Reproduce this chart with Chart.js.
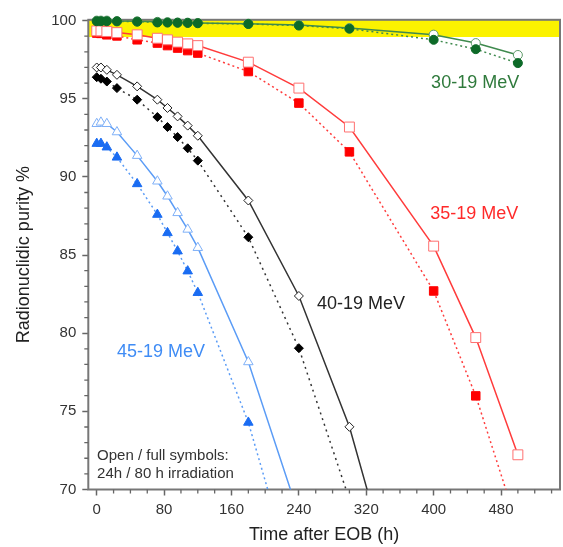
<!DOCTYPE html>
<html>
<head>
<meta charset="utf-8">
<script src="https://cdn.jsdelivr.net/npm/chart.js@4"></script>
<style>
  html, body { margin: 0; padding: 0; background: #fff; }
  #wrap { width: 563px; height: 547px; }
</style>
</head>
<body>
<div id="wrap"><canvas id="myChart"></canvas></div>
<script>
const ctx = document.getElementById('myChart')

Chart.defaults.font.family = "'Liberation Sans', Arial, sans-serif"
Chart.defaults.color = '#333'

// times after EOB (h)
const times = [0, 5, 12, 24, 48, 72, 84, 96, 108, 120, 180, 240, 300, 400, 450, 500]

// 30-19 MeV
const green24 = [100, 100, 100, 99.97, 99.95, 99.92, 99.9, 99.88, 99.87, 99.85, 99.8, 99.72, 99.52, 99.1, 98.56, 97.8]
const green80 = [99.96, 99.96, 99.96, 99.95, 99.93, 99.88, 99.87, 99.86, 99.85, 99.83, 99.78, 99.68, 99.48, 98.77, 98.17, 97.28]
// 35-19 MeV
const red24 = [99.34, 99.34, 99.3, 99.23, 99.09, 98.87, 98.77, 98.62, 98.51, 98.4, 97.34, 95.68, 93.19, 85.57, 79.72, 72.22]
const red80 = [99.2, 99.18, 99.09, 99.02, 98.77, 98.56, 98.4, 98.24, 98.08, 97.92, 96.74, 94.72, 91.6, 82.7, 75.99, 67.6]
// 40-19 MeV
const black24 = [97.0, 97.0, 96.85, 96.53, 95.79, 94.94, 94.41, 93.87, 93.28, 92.63, 88.49, 82.38, 74.01, 54.9]
const black80 = [96.38, 96.28, 96.1, 95.68, 94.94, 93.83, 93.19, 92.55, 91.83, 91.04, 86.14, 79.04, 69.35]
// 45-19 MeV
const blue24 = [93.4, 93.49, 93.4, 92.87, 91.36, 89.72, 88.76, 87.7, 86.64, 85.47, 78.16, 68.37]
const blue80 = [92.13, 92.13, 91.9, 91.25, 89.55, 87.59, 86.42, 85.25, 83.97, 82.59, 74.29, 63.1]

const xTicks = [0, 80, 160, 240, 320, 400, 480]
const yTicks = [70, 75, 80, 85, 90, 95, 100]

const labels = [
    { text: '30-19 MeV', x: 397, y: 95.69, color: '#2f7a3c' },
    { text: '35-19 MeV', x: 396, y: 87.31, color: '#ff2a2a' },
    { text: '40-19 MeV', x: 261.5, y: 81.55, color: '#222' },
    { text: '45-19 MeV', x: 24, y: 78.48, color: '#3f8cf5' }
]
const noteLines = ['Open / full symbols:', '24h / 80 h irradiation']

const toPoints = (vals) => vals.map((v, i) => ({ x: times[i], y: v }))

const series = (label, vals, opts) => Object.assign({
    label: label,
    data: toPoints(vals),
    borderWidth: 1.5,
    pointBorderWidth: 1,
    tension: 0,
    clip: { left: 10, top: 10, right: 10, bottom: 0 }
}, opts)

const noPad = (scale) => {
    scale.paddingLeft = 0
    scale.paddingRight = 0
    scale.paddingTop = 0
    scale.paddingBottom = 0
}

const framePlugin = {
    id: 'frame',
    beforeDatasetsDraw(chart) {
        const { ctx, chartArea: a, scales: { x, y } } = chart
        ctx.save()
        // yellow band 99-100 %
        const yTop = a.top
        const yBot = y.getPixelForValue(98.95)
        ctx.fillStyle = '#fbf200'
        ctx.fillRect(a.left, yTop, a.right - a.left, yBot - yTop)
        // frame
        ctx.strokeStyle = '#777'
        ctx.lineWidth = 2
        ctx.strokeRect(a.left, a.top, a.right - a.left, a.bottom - a.top)
        // minor ticks
        ctx.strokeStyle = '#666'
        ctx.lineWidth = 1.3
        ctx.beginPath()
        for (let v = 20; v <= 540; v += 20) {
            if (v % 80 === 0) continue
            const px = x.getPixelForValue(v)
            ctx.moveTo(px, a.bottom)
            ctx.lineTo(px, a.bottom + 4)
        }
        for (let v = 71; v < 100; v++) {
            if (v % 5 === 0) continue
            const py = y.getPixelForValue(v)
            ctx.moveTo(a.left, py)
            ctx.lineTo(a.left - 4, py)
        }
        ctx.stroke()
        ctx.restore()
    },
    afterDraw(chart) {
        const { ctx, scales: { x, y } } = chart
        ctx.save()
        ctx.textAlign = 'left'
        ctx.textBaseline = 'alphabetic'
        ctx.font = "18px 'Liberation Sans', Arial, sans-serif"
        labels.forEach(l => {
            ctx.fillStyle = l.color
            ctx.fillText(l.text, x.getPixelForValue(l.x), y.getPixelForValue(l.y))
        })
        ctx.font = "15px 'Liberation Sans', Arial, sans-serif"
        ctx.fillStyle = '#333'
        ctx.fillText(noteLines[0], x.getPixelForValue(0.4), y.getPixelForValue(71.88))
        ctx.fillText(noteLines[1], x.getPixelForValue(0.4), y.getPixelForValue(70.72))
        ctx.restore()
    }
}

const chart = new Chart(ctx, {
    type: 'line',
    data: {
        datasets: [
            series('30-19 MeV, 80 h', green80, {
                borderColor: '#3f8a4e', borderDash: [2, 3],
                pointStyle: 'circle', pointRadius: 4.5,
                pointBackgroundColor: '#0d6a28', pointBorderColor: '#0d6a28'
            }),
            series('30-19 MeV, 24 h', green24, {
                borderColor: '#3f8a4e',
                pointStyle: 'circle', pointRadius: 4.5,
                pointBackgroundColor: '#fff', pointBorderColor: '#5e9a6a'
            }),
            series('35-19 MeV, 24 h', red24, {
                borderColor: '#ff3c3c',
                pointStyle: 'rect', pointRadius: 7,
                pointBackgroundColor: '#fff', pointBorderColor: '#ff7070'
            }),
            series('35-19 MeV, 80 h', red80, {
                borderColor: '#ff3c3c', borderDash: [2, 3],
                pointStyle: 'rect', pointRadius: 6,
                pointBackgroundColor: '#ff0000', pointBorderColor: '#ff0000'
            }),
            series('40-19 MeV, 24 h', black24, {
                borderColor: '#333',
                pointStyle: 'rectRot', pointRadius: 4.5,
                pointBackgroundColor: '#fff', pointBorderColor: '#222'
            }),
            series('40-19 MeV, 80 h', black80, {
                borderColor: '#333', borderDash: [2, 4],
                pointStyle: 'rectRot', pointRadius: 4.5,
                pointBackgroundColor: '#000', pointBorderColor: '#000'
            }),
            series('45-19 MeV, 24 h', blue24, {
                borderColor: '#5b9cf6',
                pointStyle: 'triangle', pointRadius: 5.5,
                pointBackgroundColor: '#fff', pointBorderColor: '#7fb0f7'
            }),
            series('45-19 MeV, 80 h', blue80, {
                borderColor: '#5b9cf6', borderDash: [2, 3],
                pointStyle: 'triangle', pointRadius: 5.5,
                pointBackgroundColor: '#1a6cf2', pointBorderColor: '#1a6cf2'
            })
        ]
    },
    options: {
        responsive: true,
        maintainAspectRatio: false,
        animation: false,
        layout: { autoPadding: false, padding: { top: 19.8, right: 3, left: 0, bottom: 0 } },
        plugins: {
            legend: { display: false },
            tooltip: { enabled: false }
        },
        scales: {
            x: {
                type: 'linear',
                min: -10,
                max: 550,
                afterBuildTicks: (scale) => { scale.ticks = xTicks.map(v => ({ value: v })) },
                afterFit: (scale) => { scale.height = 57.5; noPad(scale) },
                grid: { drawOnChartArea: false, tickLength: 6, tickColor: '#666', tickWidth: 1.5 },
                border: { display: false },
                ticks: { font: { size: 15 }, color: '#333', padding: 5, maxRotation: 0 },
                title: {
                    display: true, text: 'Time after EOB (h)',
                    font: { size: 18 }, color: '#222',
                    padding: { top: 0, bottom: 1 }
                }
            },
            y: {
                type: 'linear',
                min: 70,
                max: 100.05,
                afterBuildTicks: (scale) => { scale.ticks = yTicks.map(v => ({ value: v })) },
                afterFit: (scale) => { scale.width = 88.3; noPad(scale) },
                grid: { drawOnChartArea: false, tickLength: 6, tickColor: '#666', tickWidth: 1.5 },
                border: { display: false },
                ticks: { font: { size: 15 }, color: '#333', padding: 6 },
                title: {
                    display: true, text: 'Radionuclidic purity %',
                    font: { size: 18 }, color: '#222',
                    padding: { top: 13, bottom: 0 }
                }
            }
        }
    },
    plugins: [framePlugin]
})
</script>
</body>
</html>
